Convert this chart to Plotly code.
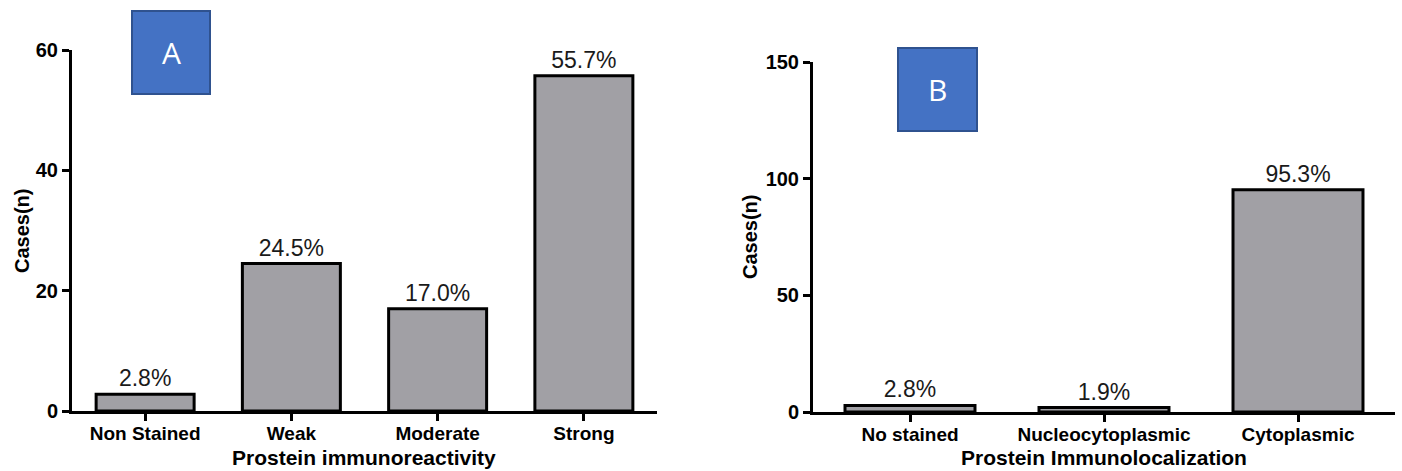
import plotly.graph_objects as go

# Panel A: immunoreactivity intensity
reactivity_labels = ["Non Stained", "Weak", "Moderate", "Strong"]
reactivity_cases = [2.8, 24.5, 17.0, 55.7]

# Panel B: subcellular localisation
location_labels = ["No stained", "Nucleocytoplasmic", "Cytoplasmic"]
location_cases = [2.8, 1.9, 95.3]

W, H = 1402, 471
FONT = "Liberation Sans, Arial, sans-serif"
BAR_FILL = "#a1a0a5"
BOX_FILL = "#4472c4"
BOX_EDGE = "#2f528f"


def px_x(x):
    return x / W


def px_y(y):
    return 1 - y / H


fig = go.Figure()

fig.add_trace(go.Bar(
    x=reactivity_labels, y=reactivity_cases,
    xaxis="x", yaxis="y",
    marker=dict(color=BAR_FILL, line=dict(color="black", width=3)),
    texttemplate="%{y:.1f}%", textposition="outside", constraintext="none",
    textfont=dict(family=FONT, size=23, color="#1a1a1a"),
    cliponaxis=False, showlegend=False,
))
fig.add_trace(go.Bar(
    x=location_labels, y=location_cases,
    xaxis="x2", yaxis="y2",
    marker=dict(color=BAR_FILL, line=dict(color="black", width=3)),
    texttemplate="%{y:.1f}%", textposition="outside", constraintext="none",
    textfont=dict(family=FONT, size=23, color="#1a1a1a"),
    cliponaxis=False, showlegend=False,
))

axis_common = dict(
    showline=True, linecolor="black", linewidth=3,
    ticks="outside", ticklen=7, tickwidth=3, tickcolor="black",
    showgrid=False, zeroline=False, automargin=False,
    tickfont=dict(family=FONT, size=19, color="black", weight="bold"),
)

fig.update_layout(
    width=W, height=H,
    margin=dict(l=0, r=0, t=0, b=0, autoexpand=False),
    paper_bgcolor="white", plot_bgcolor="white",
    bargap=0.33,
    xaxis=dict(domain=[px_x(72), px_x(657)], range=[-0.5, 3.5],
               anchor="y", ticklabelstandoff=-4, **axis_common),
    yaxis=dict(domain=[px_y(411), px_y(50)], range=[0, 60],
               tickvals=[0, 20, 40, 60], anchor="x", **axis_common),
    xaxis2=dict(domain=[px_x(813), px_x(1395)], range=[-0.5, 2.5],
                anchor="y2", ticklabelstandoff=-4, **axis_common),
    yaxis2=dict(domain=[px_y(412), px_y(62)], range=[0, 150],
                tickvals=[0, 50, 100, 150], anchor="x2", **axis_common),
)
fig.update_yaxes(tickfont=dict(size=20))

title_font = dict(family=FONT, size=20, color="black", weight="bold")
xtitle_font = dict(family=FONT, size=21, color="black", weight="bold")

annotations = [
    dict(text="Cases(n)", x=px_x(22), y=px_y(231), textangle=-90, font=title_font),
    dict(text="Cases(n)", x=px_x(750), y=px_y(237), textangle=-90, font=title_font),
    dict(text="Prostein immunoreactivity", x=px_x(364), y=px_y(457), font=xtitle_font),
    dict(text="Prostein Immunolocalization", x=px_x(1104), y=px_y(457), font=xtitle_font),
]

# Panel letter boxes
boxes = [("A", 132, 11, 210, 94), ("B", 898, 48, 977, 131)]
shapes = []
for letter, x0, y0, x1, y1 in boxes:
    shapes.append(dict(type="rect", xref="paper", yref="paper",
                       x0=px_x(x0), x1=px_x(x1), y0=px_y(y1), y1=px_y(y0),
                       fillcolor=BOX_FILL, line=dict(color=BOX_EDGE, width=2)))
    annotations.append(dict(text=letter, x=px_x((x0 + x1) / 2), y=px_y((y0 + y1) / 2),
                            font=dict(family="Open Sans, Liberation Sans", size=30, color="white")))

for a in annotations:
    a.update(xref="paper", yref="paper", showarrow=False, xanchor="center", yanchor="middle")

fig.update_layout(annotations=annotations, shapes=shapes)

fig.write_html("out.html")
